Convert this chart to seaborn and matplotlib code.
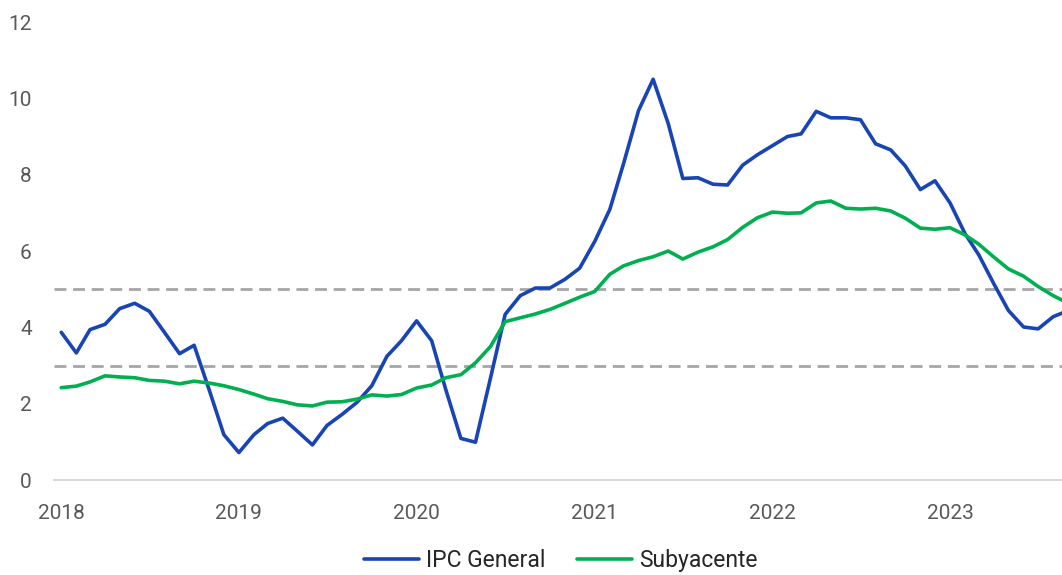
import pandas as pd
import seaborn as sns
import matplotlib.pyplot as plt

# monthly data, Jan 2018 - Sep 2023
months = pd.date_range("2018-01-01", "2023-09-01", freq="MS")

ipc_general = [
    3.87, 3.33, 3.94, 4.08, 4.49, 4.63, 4.42, 3.87, 3.31, 3.53, 2.36, 1.19,
    0.72, 1.19, 1.48, 1.62, 1.28, 0.92, 1.43, 1.72, 2.04, 2.47, 3.24, 3.65,
    4.17, 3.65, 2.37, 1.09, 0.99, 2.68, 4.34, 4.83, 5.03, 5.03, 5.26, 5.55,
    6.25, 7.09, 8.28, 9.68, 10.50, 9.34, 7.90, 7.92, 7.75, 7.73, 8.25, 8.52,
    8.76, 9.00, 9.07, 9.66, 9.49, 9.49, 9.44, 8.81, 8.65, 8.23, 7.61, 7.84,
    7.26, 6.45, 5.90, 5.14, 4.44, 4.01, 3.96, 4.28, 4.44,
]

subyacente = [
    2.42, 2.46, 2.57, 2.73, 2.70, 2.68, 2.61, 2.59, 2.52, 2.59, 2.54, 2.47,
    2.37, 2.25, 2.13, 2.06, 1.97, 1.94, 2.04, 2.05, 2.12, 2.23, 2.20, 2.24,
    2.41, 2.49, 2.68, 2.76, 3.07, 3.50, 4.15, 4.25, 4.35, 4.47, 4.63, 4.79,
    4.94, 5.39, 5.61, 5.75, 5.85, 6.00, 5.79, 5.97, 6.11, 6.30, 6.62, 6.87,
    7.02, 6.99, 7.00, 7.26, 7.31, 7.12, 7.10, 7.12, 7.05, 6.86, 6.60, 6.57,
    6.61, 6.42, 6.18, 5.84, 5.53, 5.34, 5.07, 4.83, 4.63,
]

band_low, band_high = 3, 5
years = [2018, 2019, 2020, 2021, 2022, 2023]

df = pd.DataFrame({"fecha": months, "IPC General": ipc_general, "Subyacente": subyacente})
long = df.melt(id_vars="fecha", var_name="serie", value_name="valor")

sns.set_style("white")
plt.rcParams["font.family"] = ["Roboto", "DejaVu Sans"]

fig = plt.figure(figsize=(10.62, 5.75), dpi=100)
ax = fig.add_axes([0.0508, 0.1652, 0.9492, 0.7965])

ax.axhline(band_high, color="#A6A6A6", lw=2, ls=(0, (4.3, 2.4)), zorder=1)
ax.axhline(band_low, color="#A6A6A6", lw=2, ls=(0, (4.3, 2.4)), zorder=1)

sns.lineplot(data=long, x="fecha", y="valor", hue="serie",
             palette={"IPC General": "#1844B4", "Subyacente": "#00B050"},
             linewidth=2.6, ax=ax, zorder=3)

ax.set_ylim(0, 12)
ax.set_yticks(range(0, 13, 2))
ax.set_xlim(pd.Timestamp("2017-12-17"), pd.Timestamp("2023-08-19"))
ax.set_xticks([pd.Timestamp(f"{y}-01-01") for y in years])
ax.set_xticklabels([str(y) for y in years])
ax.set_xlabel("")
ax.set_ylabel("")

for s in ["top", "right", "left"]:
    ax.spines[s].set_visible(False)
ax.spines["bottom"].set_color("#D9D9D9")
ax.spines["bottom"].set_linewidth(1.5)
ax.tick_params(axis="both", length=0, labelsize=15, labelcolor="#595959")
ax.tick_params(axis="x", pad=17)
ax.tick_params(axis="y", pad=16)

h, l = ax.get_legend_handles_labels()
ax.legend(h, l, loc="center", bbox_to_anchor=(0.528, 0.025),
          bbox_transform=fig.transFigure, ncol=2, frameon=False,
          fontsize=16.5, handlelength=2.4, handletextpad=0.3, columnspacing=1.4)

fig.savefig("out.png", dpi=100)
